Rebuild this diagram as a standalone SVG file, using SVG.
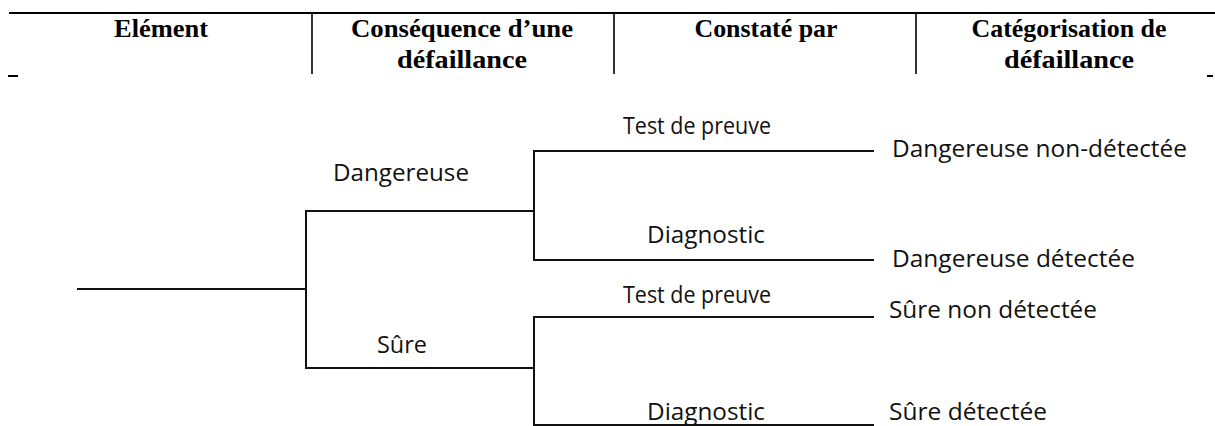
<svg xmlns="http://www.w3.org/2000/svg" width="1215" height="426" viewBox="0 0 1215 426">
<style>
.hdr{font-family:"Liberation Serif","Times New Roman",serif;font-weight:bold;font-size:25.5px;fill:#000;text-anchor:middle}
.lbl{font-family:"Open Sans","DejaVu Sans",sans-serif;font-size:23.5px;fill:#111}
.rule{stroke:#000;stroke-width:2;fill:none}
.div{stroke:#000;stroke-width:1.6;fill:none}
.edge{stroke:#111;stroke-width:2;fill:none;stroke-linecap:square}
</style>
<rect width="1215" height="426" fill="#fff"/>
<g id="header">
  <line class="rule" x1="9" y1="13" x2="1215" y2="13"/>
  <line class="div" x1="312" y1="13" x2="312" y2="74"/>
  <line class="div" x1="614" y1="13" x2="614" y2="74"/>
  <line class="div" x1="916" y1="13" x2="916" y2="74"/>
  <line class="rule" x1="8" y1="76" x2="18" y2="76"/>
  <line class="rule" x1="1207" y1="76" x2="1213" y2="76"/>
  <text class="hdr" x="161" y="37" textLength="94" lengthAdjust="spacingAndGlyphs">Elément</text>
  <text class="hdr" x="462" y="37" textLength="222" lengthAdjust="spacingAndGlyphs">Conséquence d’une</text>
  <text class="hdr" x="462" y="68" textLength="130" lengthAdjust="spacingAndGlyphs">défaillance</text>
  <text class="hdr" x="766" y="37" textLength="143" lengthAdjust="spacingAndGlyphs">Constaté par</text>
  <text class="hdr" x="1069" y="37" textLength="195" lengthAdjust="spacingAndGlyphs">Catégorisation de</text>
  <text class="hdr" x="1069" y="68" textLength="130" lengthAdjust="spacingAndGlyphs">défaillance</text>
</g>
<g id="connectors">
  <path class="edge" d="M78 289 H306"/>
  <path class="edge" d="M534 211 H306 V368 H534"/>
  <path class="edge" d="M873 151 H534 V260 H873"/>
  <path class="edge" d="M873 317 H534 V425 H873"/>
</g>
<g id="node-dangereuse"><text class="lbl" x="333" y="181" textLength="136" lengthAdjust="spacingAndGlyphs">Dangereuse</text></g>
<g id="node-sure"><text class="lbl" x="377" y="353" textLength="50" lengthAdjust="spacingAndGlyphs">Sûre</text></g>
<g id="node-test1"><text class="lbl" x="623" y="134" textLength="148" lengthAdjust="spacingAndGlyphs">Test de preuve</text></g>
<g id="node-diag1"><text class="lbl" x="647" y="243" textLength="118" lengthAdjust="spacingAndGlyphs">Diagnostic</text></g>
<g id="node-test2"><text class="lbl" x="623" y="303" textLength="148" lengthAdjust="spacingAndGlyphs">Test de preuve</text></g>
<g id="node-diag2"><text class="lbl" x="647" y="420" textLength="118" lengthAdjust="spacingAndGlyphs">Diagnostic</text></g>
<g id="node-dnd"><text class="lbl" x="892" y="157" textLength="295" lengthAdjust="spacingAndGlyphs">Dangereuse non-détectée</text></g>
<g id="node-dd"><text class="lbl" x="892" y="267" textLength="243" lengthAdjust="spacingAndGlyphs">Dangereuse détectée</text></g>
<g id="node-snd"><text class="lbl" x="889" y="318" textLength="208" lengthAdjust="spacingAndGlyphs">Sûre non détectée</text></g>
<g id="node-sd"><text class="lbl" x="889" y="420" textLength="158" lengthAdjust="spacingAndGlyphs">Sûre détectée</text></g>
</svg>
